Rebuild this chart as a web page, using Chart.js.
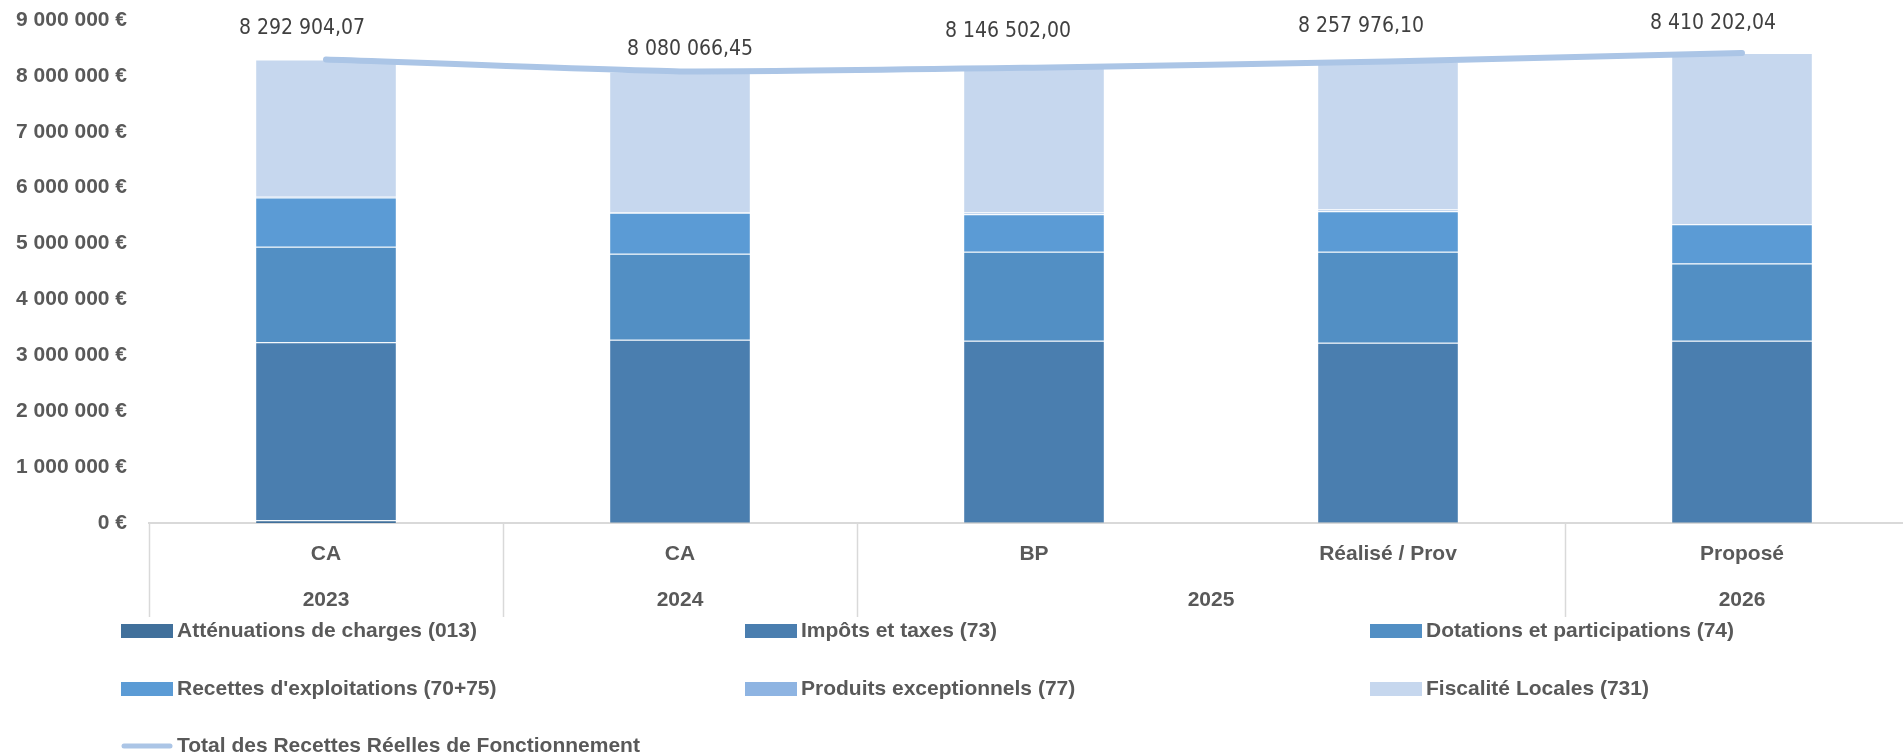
<!DOCTYPE html>
<html lang="fr">
<head>
<meta charset="utf-8">
<title>Recettes réelles de fonctionnement</title>
<script src="https://cdn.jsdelivr.net/npm/chart.js@4.4.1/dist/chart.umd.min.js"></script>
<style>
  html, body { margin: 0; padding: 0; background: #fff; overflow: hidden; }
  #wrap { width: 1920px; height: 755px; }
</style>
</head>
<body>
<div id="wrap"><canvas id="graph" width="1920" height="755"></canvas></div>
<script>
// categories (2 niveaux : type de document / exercice)
const periodes = ['CA', 'CA', 'BP', 'Réalisé / Prov', 'Proposé'];
const annees = ['2023', '2024', '2025', '2025', '2026'];

// montants en euros
const attenuations = [48000, 20000, 15000, 15000, 20000];
const impots = [3184000, 3260000, 3245000, 3209000, 3240000];
const dotations = [1710000, 1538000, 1592000, 1628000, 1383000];
const exploitations = [884000, 733000, 673000, 726000, 703000];
const exceptionnels = [10000, 10000, 30000, 30000, 5000];
const fiscalite = [2456904, 2519066, 2591502, 2649976, 3059202];
const totalRRF = [8292904.07, 8080066.45, 8146502.00, 8257976.10, 8410202.04];

const yMax = 9000000;
const yStep = 1000000;

const POLICE = "'Liberation Sans', Arial, sans-serif";
const POLICE_ETROITE = "'Liberation Sans Narrow', 'Arial Narrow', 'DejaVu Sans Condensed', sans-serif";
const GRIS = '#595959';

function euros(v) {
    return String(Math.round(v)).replace(/\B(?=(\d{3})+(?!\d))/g, ' ') + ' €';
}
function montant(v) {
    const [e, d] = v.toFixed(2).split('.');
    return e.replace(/\B(?=(\d{3})+(?!\d))/g, ' ') + ',' + d;
}

// decalage manuel des etiquettes de la courbe (comme dans le tableur)
const decalages = [[-24, -31], [10, -22], [-26, -36], [-27, -35], [-29, -29]];

const etiquettesTotal = {
    id: 'etiquettesTotal',
    afterDatasetsDraw(chart) {
        const meta = chart.getDatasetMeta(6);
        const ctx = chart.ctx;
        ctx.save();
        ctx.font = "21px " + POLICE_ETROITE;
        ctx.fillStyle = '#404040';
        ctx.textAlign = 'center';
        ctx.textBaseline = 'middle';
        meta.data.forEach((pt, i) => {
            ctx.fillText(montant(totalRRF[i]), pt.x + decalages[i][0], pt.y + decalages[i][1]);
        });
        ctx.restore();
    }
};

// second niveau de l'axe des x : annees regroupees + separateurs
const axeAnnees = {
    id: 'axeAnnees',
    afterDraw(chart) {
        const {ctx, chartArea, scales: {x}} = chart;
        const half = (x.getPixelForValue(1) - x.getPixelForValue(0)) / 2;
        ctx.save();
        ctx.strokeStyle = '#D9D9D9';
        ctx.lineWidth = 1.5;
        for (let i = 0; i <= annees.length; i++) {
            if (i > 0 && i < annees.length && annees[i] === annees[i - 1]) continue;
            const px = i < annees.length ? x.getPixelForValue(i) - half : x.getPixelForValue(annees.length - 1) + half;
            ctx.beginPath();
            ctx.moveTo(Math.round(px) + 0.5, chartArea.bottom);
            ctx.lineTo(Math.round(px) + 0.5, 617);
            ctx.stroke();
        }
        ctx.font = "bold 21px " + POLICE;
        ctx.fillStyle = GRIS;
        ctx.textAlign = 'center';
        ctx.textBaseline = 'middle';
        let debut = 0;
        for (let i = 0; i < annees.length; i++) {
            if (i === annees.length - 1 || annees[i + 1] !== annees[i]) {
                const cx = (x.getPixelForValue(debut) + x.getPixelForValue(i)) / 2;
                ctx.fillText(annees[i], cx, 600);
                debut = i + 1;
            }
        }
        ctx.restore();
    }
};

// legende sur 3 colonnes
const legende = {
    id: 'legende',
    afterDraw(chart) {
        const ctx = chart.ctx;
        const cols = [121, 745, 1370];
        const rows = [631, 689, 746];
        ctx.save();
        ctx.font = "bold 21px " + POLICE;
        ctx.textBaseline = 'middle';
        chart.data.datasets.forEach((ds, i) => {
            const x0 = cols[i % 3];
            const y0 = rows[Math.floor(i / 3)];
            if (ds.type === 'line') {
                ctx.strokeStyle = ds.borderColor;
                ctx.lineWidth = 5;
                ctx.lineCap = 'round';
                ctx.beginPath();
                ctx.moveTo(x0 + 3, y0);
                ctx.lineTo(x0 + 49, y0);
                ctx.stroke();
            } else {
                ctx.fillStyle = ds.backgroundColor;
                ctx.fillRect(x0, y0 - 7, 52, 14);
            }
            ctx.fillStyle = GRIS;
            ctx.fillText(ds.label, x0 + 56, y0);
        });
        ctx.restore();
    }
};

function barres(label, data, couleur) {
    return {
        type: 'bar',
        label: label,
        data: data,
        backgroundColor: couleur,
        borderColor: 'rgba(255,255,255,0.14)',
        borderWidth: 1,
        stack: 'recettes',
        order: 1,
        barPercentage: 0.4,
        categoryPercentage: 1
    };
}

const ctx = document.getElementById('graph').getContext('2d');
const chart = new Chart(ctx, {
    data: {
        labels: periodes,
        datasets: [
            barres('Atténuations de charges (013)', attenuations, '#41709B'),
            barres('Impôts et taxes (73)', impots, '#4A7EAF'),
            barres('Dotations et participations (74)', dotations, '#528FC4'),
            barres("Recettes d'exploitations (70+75)", exploitations, '#5B9BD5'),
            barres('Produits exceptionnels (77)', exceptionnels, '#8EB4E2'),
            barres('Fiscalité Locales (731)', fiscalite, '#C6D7EE'),
            {
                type: 'line',
                label: 'Total des Recettes Réelles de Fonctionnement',
                data: totalRRF,
                borderColor: '#ABC5E6',
                borderWidth: 6,
                borderCapStyle: 'round',
                borderJoinStyle: 'round',
                pointRadius: 0,
                tension: 0.15,
                stack: 'total',
                order: 0
            }
        ]
    },
    options: {
        responsive: false,
        animation: false,
        layout: {padding: {top: 20, right: 1, left: 0, bottom: 0}},
        plugins: {
            legend: {display: false},
            tooltip: {enabled: false}
        },
        scales: {
            x: {
                stacked: true,
                grid: {display: false, drawTicks: false},
                border: {color: '#D9D9D9', width: 2},
                ticks: {
                    color: GRIS,
                    font: {family: POLICE, size: 21, weight: 'bold'},
                    padding: 19,
                    maxRotation: 0,
                    autoSkip: false
                },
                afterFit(scale) { scale.height = 232; }
            },
            y: {
                stacked: true,
                min: 0,
                max: yMax,
                grid: {display: false, drawTicks: false},
                border: {display: false},
                ticks: {
                    stepSize: yStep,
                    color: GRIS,
                    font: {family: POLICE, size: 21, weight: 'bold'},
                    padding: 22,
                    callback: (v) => euros(v)
                },
                afterFit(scale) {
                    scale.width = 149;
                    scale.paddingTop = 0;
                    scale.paddingBottom = 0;
                }
            }
        }
    },
    plugins: [etiquettesTotal, axeAnnees, legende]
});
</script>
</body>
</html>
